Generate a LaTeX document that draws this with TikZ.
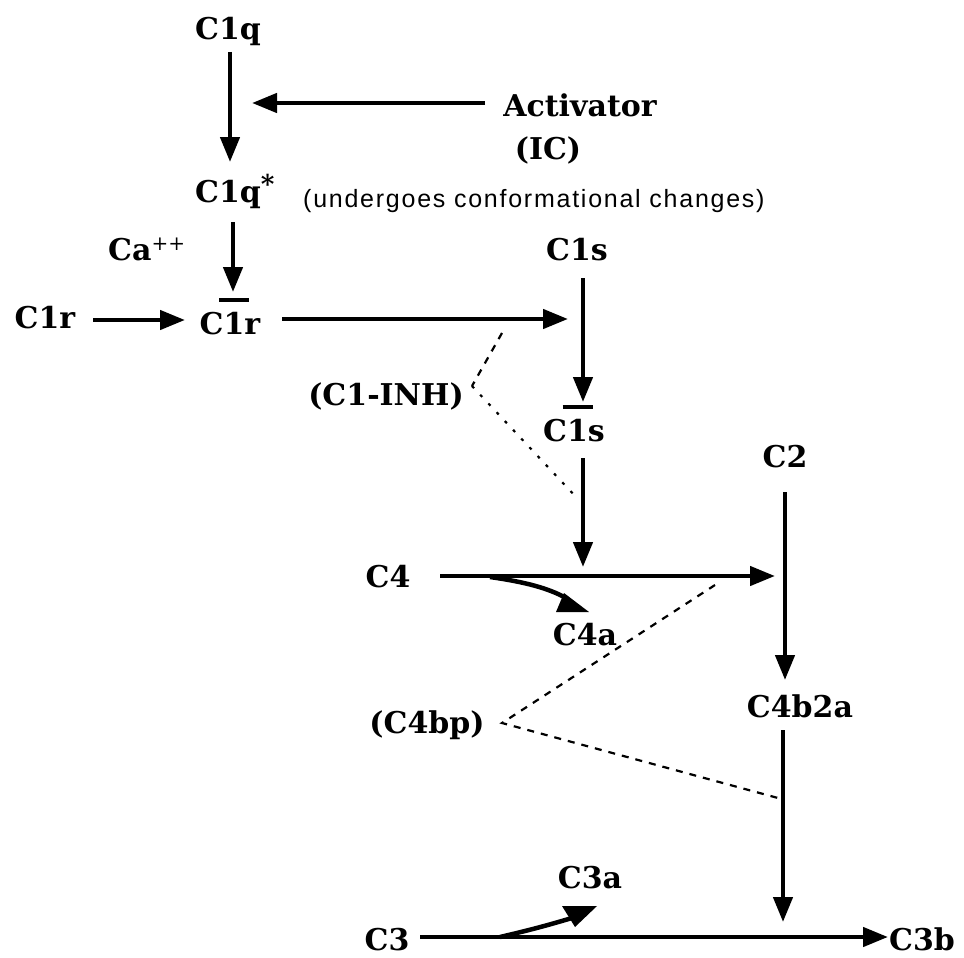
\documentclass[tikz,border=0pt]{standalone}
\usepackage{fontspec}
\setmainfont{DejaVu Serif}
\newfontfamily\notefont[LetterSpace=7]{Liberation Sans}
\usetikzlibrary{arrows.meta}
\newcommand{\barone}{\makebox[0pt][l]{\hspace{-4.5pt}\raisebox{32pt}{\rule{30pt}{4pt}}}1}
\newcommand{\bigstar}{\raisebox{9pt}{\fontsize{26}{26}\selectfont\bfseries *}}
\begin{document}
\begin{tikzpicture}[x=1pt,y=-1pt,
  lbl/.style={font=\fontsize{30}{36}\selectfont\bfseries, inner sep=0pt, anchor=base},
  note/.style={font=\notefont\fontsize{25}{30}\selectfont, inner sep=0pt, anchor=base west},
  arr/.style={line width=4.5pt, -{Triangle[length=25pt,width=19pt]}},
  plainline/.style={line width=4.5pt},
  dsh/.style={line width=2.2pt, dash pattern=on 7pt off 7pt},
  dtt/.style={line width=2.2pt, dash pattern=on 3pt off 9pt}]
\fill[white] (0,0) rectangle (964,958);
\useasboundingbox (0,0) rectangle (964,958);

% labels
\node[lbl] (c1q) at (228,40) {C1q};
\node[lbl] (act) at (580,116) {Activator};
\node[lbl] (ic) at (548,159) {(IC)};
\node[lbl,anchor=base west] (c1qs) at (195,202) {C1q\bigstar};
\node[note] (conf) at (303,207) {(undergoes conformational changes)};
\node[lbl,anchor=base west] (ca) at (108,260) {Ca\textsuperscript{\mdseries\fontsize{20}{20}\selectfont ++}};
\node[lbl] (c1r) at (45,328) {C1r};
\node[lbl] (c1rb) at (230,334) {C\barone r};
\node[lbl] (c1s) at (577,260) {C1s};
\node[lbl] (c1sb) at (574,441) {C\barone s};
\node[lbl] (inh) at (386,405) {(C1-INH)};
\node[lbl] (c2) at (785,467) {C2};
\node[lbl] (c4) at (388,587) {C4};
\node[lbl] (c4a) at (585,645) {C4a};
\node[lbl] (c4bp) at (427,733) {(C4bp)};
\node[lbl] (c4b2a) at (800,717) {C4b2a};
\node[lbl] (c3) at (387,950) {C3};
\node[lbl] (c3a) at (590,888) {C3a};
\node[lbl] (c3b) at (922,950) {C3b};

% connector end points
\coordinate (q1) at (230,52);   \coordinate (q2) at (230,162);
\coordinate (a1) at (485,103);  \coordinate (a2) at (252,103);
\coordinate (s1) at (233,222);  \coordinate (s2) at (233,292);
\coordinate (r1) at (93,320);   \coordinate (r2) at (185,320);
\coordinate (rb1) at (282,319); \coordinate (rb2) at (568,319);
\coordinate (cs1) at (583,278); \coordinate (cs2) at (583,402);
\coordinate (sb1) at (583,458); \coordinate (sb2) at (583,567);
\coordinate (f1) at (440,576);  \coordinate (f2) at (775,576);
\coordinate (t1) at (785,492);  \coordinate (t2) at (785,680);
\coordinate (b1) at (783,730);  \coordinate (b2) at (783,922);
\coordinate (h1) at (420,937);  \coordinate (h2) at (888,937);
\coordinate (i1) at (502,333);  \coordinate (iv) at (472,386); \coordinate (i2) at (577,498);
\coordinate (p1) at (715,585);  \coordinate (pv) at (502,723); \coordinate (p2) at (778,798);

% main arrows
\draw[arr] (q1) -- (q2);
\draw[arr] (a1) -- (a2);
\draw[arr] (s1) -- (s2);
\draw[arr] (r1) -- (r2);
\draw[arr] (rb1) -- (rb2);
\draw[arr] (cs1) -- (cs2);
\draw[arr] (sb1) -- (sb2);
\draw[arr] (f1) -- (f2);
\draw[arr] (t1) -- (t2);
\draw[arr] (b1) -- (b2);
\draw[arr] (h1) -- (h2);

% side products
\draw[plainline] (490,577) .. controls (525,582) and (548,588) .. (566,598);
\fill (556,612) -- (589,612) -- (564,593) -- cycle;
\draw[plainline] (500,937) .. controls (530,930) and (545,926) .. (572,918);
\fill (562,906) -- (597,906) -- (575,927) -- cycle;

% inhibitors
\draw[dsh] (i1) -- (iv);
\draw[dtt] (iv) -- (i2);
\draw[dsh] (p1) -- (pv) -- (p2);
\end{tikzpicture}
\end{document}
